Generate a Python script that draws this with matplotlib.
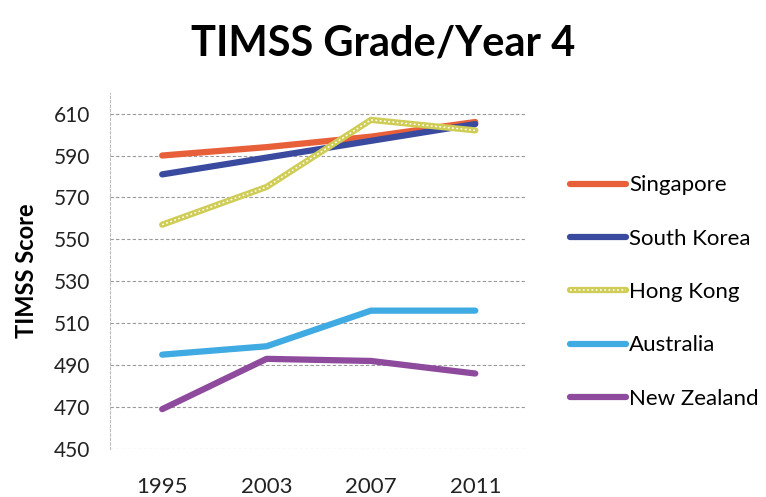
import matplotlib
matplotlib.use('Agg')
import matplotlib.pyplot as plt
from matplotlib.legend_handler import HandlerTuple

plt.rcParams['font.family'] = ['Lato', 'DejaVu Sans']

years = ['1995', '2003', '2007', '2011']
singapore = [590, 594, 599, 606]
south_korea = [581, 589, 597, 605]
hong_kong = [557, 575, 607, 602]
australia = [495, 499, 516, 516]
new_zealand = [469, 493, 492, 486]
yticks = [450, 470, 490, 510, 530, 550, 570, 590, 610]

fig = plt.figure(figsize=(7.66, 4.97), dpi=100)
ax = fig.add_axes([0.1436, 0.0966, 0.545, 0.717])

x = range(len(years))
lw = 4.5
h1, = ax.plot(x, singapore, color='#E8603A', lw=lw, solid_capstyle='round')
h2, = ax.plot(x, south_korea, color='#3A4A9E', lw=lw, solid_capstyle='round')
h3a, = ax.plot(x, hong_kong, color='#CFCD55', lw=lw, solid_capstyle='round')
h3b, = ax.plot(x, hong_kong, color='white', lw=1.1, linestyle=(0, (1.2, 1.6)))
h4, = ax.plot(x, australia, color='#40AAE2', lw=lw, solid_capstyle='round')
h5, = ax.plot(x, new_zealand, color='#8E4A9C', lw=lw, solid_capstyle='round')

ax.set_xlim(-0.5, 3.5)
ax.set_ylim(450, 620)
ax.set_xticks(list(x))
ax.set_xticklabels(years)
ax.set_yticks(yticks)
ax.tick_params(length=0, colors='#222222')
ax.tick_params(axis='x', labelsize=16, pad=20)
ax.tick_params(axis='y', labelsize=15, pad=14)
ax.grid(axis='y', color='#999999', lw=0.8, linestyle=(0, (3, 2)))
for s in ['top', 'right', 'bottom']:
    ax.spines[s].set_visible(False)
ax.spines['left'].set_color('#bbbbbb')
ax.spines['left'].set_linestyle((0, (2, 2)))
ax.set_ylabel('TIMSS Score', fontsize=17, fontweight='bold', labelpad=12)

fig.suptitle('TIMSS Grade/Year 4', fontsize=30, fontweight='bold', x=0.5, y=0.95)

fig.legend([h1, h2, (h3a, h3b), h4, h5],
           ['Singapore', 'South Korea', 'Hong Kong', 'Australia', 'New Zealand'],
           handler_map={tuple: HandlerTuple(ndivide=1, pad=0)},
           loc='center left', bbox_to_anchor=(570 / 766, 1 - 292 / 497), frameon=False,
           fontsize=16, handlelength=2.5, handletextpad=0.15, labelspacing=1.5,
           borderpad=0, borderaxespad=0)

fig.savefig('out.png', dpi=100)
